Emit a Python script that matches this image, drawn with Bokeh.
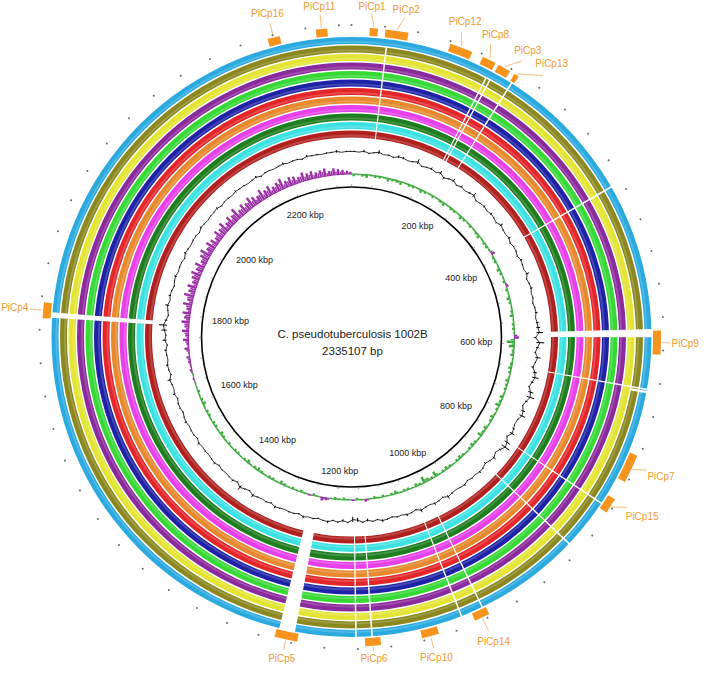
import numpy as np
from bokeh.plotting import figure
from bokeh.models import Range1d
from bokeh.embed import file_html
from bokeh.resources import INLINE
from bokeh.core.properties import value

# ---------------- data ----------------
GENOME_BP = 2335107
genome_title = "C. pseudotuberculosis 1002B"
genome_size_label = "2335107 bp"

# comparison rings, outermost first
ring_colors = ["#2BAAE0", "#8A881E", "#E4E433", "#8B2A9C", "#36D936", "#1E22A6",
               "#E4262A", "#E8892E", "#E840E8", "#1E7D1E", "#3CE2E2", "#B0201E"]

backbone_label_kbp = [200, 400, 600, 800, 1000, 1200, 1400, 1600, 1800, 2000, 2200]
backbone_labels = ["200 kbp", "400 kbp", "600 kbp", "800 kbp", "1000 kbp", "1200 kbp",
                   "1400 kbp", "1600 kbp", "1800 kbp", "2000 kbp", "2200 kbp"]

island_names = ["PiCp1", "PiCp2", "PiCp12", "PiCp8", "PiCp3", "PiCp13", "PiCp9", "PiCp7",
                "PiCp15", "PiCp14", "PiCp10", "PiCp6", "PiCp5", "PiCp4", "PiCp16", "PiCp11"]
island_start_kbp = [22, 41, 121, 163, 184, 206, 576, 730, 789, 996, 1061, 1132, 1233, 1774, 2233, 2292]
island_end_kbp = [32, 69, 149, 180, 200, 212, 605, 765, 808, 1015, 1082, 1151, 1261, 1793, 2248, 2306]

# regions missing from the compared genomes (white gaps through the rings)
gap_start_kbp = [43.5, 177, 182.5, 208, 388, 574, 648, 651, 801, 865, 999, 1027, 1141, 1161, 1238, 1775]
gap_end_kbp = [45.5, 179, 184.5, 210, 390, 584, 650, 654, 803, 867, 1001, 1029, 1143, 1163, 1258, 1782]
gap_first_ring = [1, 1, 1, 0, 0, 0, 0, 0, 0, 0, 0, 0, 0, 0, 0, 0]
gap_last_ring = [11, 11, 11, 11, 11, 11, 11, 1, 11, 11, 11, 11, 11, 11, 11, 11]

window_kbp = 10
gc_content = [
    1, 0, 2, -1, 1, 3, 0, 1, -1, 2,
    2, 0, 1, 4, -1, 1, 2, 0, 3, -2,
    1, 3, -1, 2, 0, 2, 4, -1, 1, 2,
    0, 2, 1, -1, 3, 1, 0, 2, -1, 1,
    1, -1, 2, 1, 0, 3, -1, 1, 2, 0,
    1, -1, 1, 2, 0, 2, 3, 5, -2, 6,
    2, -1, 4, 1, -2, 3, 5, 2, -1, 4,
    6, 2, -1, 3, 5, 1, 0, 2, 4, -1,
    5, 7, 2, -1, 3, 1, -2, 1, 2, 0,
    1, -1, 2, 1, 0, 1, 3, -1, 1, 2,
    0, 1, 3, -1, 1, 2, 0, 1, -1, 1,
    2, -1, 1, -2, 1, -3, -4, 1, -2, 1,
    -1, 2, 1, -1, 1, 0, 2, -1, 1, 1,
    0, 1, 2, -1, 1, 0, 1, 3, -1, 1,
    4, -1, 2, 1, 0, 1, -1, 2, 1, 0,
    1, 0, 2, -1, 1, 1, 0, 2, 1, -1,
    1, 1, -1, 2, 0, 1, 3, -1, 1, 2,
    0, 1, 2, -1, 3, 1, 4, 6, 2, -1,
    1, 3, 0, 2, 1, -1, 1, 2, 0, 1,
    1, -1, 2, 1, 0, 1, 1, -1, 2, 1,
    0, 1, 1, 2, -1, 1, 1, 0, 2, 1,
    1, 0, 1, 2, -1, 1, 1, 0, 1, 2,
    0, 1, 1, -1, 2, 1, 1, 0, 1, 1,
    2, 0, 1, 1]
gc_skew = [
    -2, -1, -2, -3, -1, -2, -2, -1, -3, -2,
    -2, -3, -1, -2, -2, -1, -3, -2, -1, -2,
    -1, -2, -3, -1, -2, -2, -1, -3, -2, -1,
    -2, -1, -2, -3, -1, -2, -2, -1, 3, -2,
    -2, -1, -3, -2, -1, -2, 2, -2, -1, -3,
    -2, -1, -2, -3, -1, -2, -2, -1, 4, -7,
    -5, -2, -3, -1, -2, -3, -2, -1, -3, -2,
    -2, -1, -3, -2, -4, -2, -1, -3, -2, -1,
    -3, -2, -4, -1, -2, -3, -2, -1, -2, -3,
    -2, -1, -2, -3, -2, -1, -5, -2, -3, -6,
    -2, -3, -1, -2, -2, -1, -3, -2, -1, -2,
    -1, -2, -1, 2, -1, -2, 1, -1, -2, -1,
    -2, -1, 2, 3, -1, -2, 1, -1, -2, -1,
    -2, -1, -2, -3, -1, -2, -2, -1, -2, -3,
    -2, -1, -3, -2, -1, -2, -2, -1, -2, -1,
    -2, -3, -1, -2, -2, -1, -2, -2, -1, -3,
    -2, -1, -2, -1, -1, 1, -1, 2, 1, 2,
    3, 1, 4, 2, 5, 3, 6, 4, 7, 5,
    7, 4, 8, 5, 9, 6, 8, 5, 7, 9,
    6, 9, 5, 8, 10, 6, 9, 7, 5, 9,
    7, 10, 6, 9, 7, 11, 6, 9, 7, 10,
    8, 6, 10, 7, 9, 6, 8, 10, 6, 8,
    7, 5, 8, 6, 7, 5, 6, 7, 4, 6,
    5, 4, 3, 2]

# ---------------- layout ----------------
CX, CY = 351.0, -336.5
R_BACKBONE = 150.0
R_GC = 185.0
R_SKEW = 163.0
R_RING_OUT, RING_PITCH, RING_W = 300.0, 8.5, 7.0
R_ISL_IN, R_ISL_OUT = 301.5, 309.5
R_DOTS = 312.0
R_LABEL_EDGE = 325.0
R_TICKLABEL_EDGE = 141.0
label_nudge_deg = {"PiCp2": 1.0, "PiCp12": -1.0, "PiCp8": -1.0, "PiCp3": 2.0,
                   "PiCp13": 4.0, "PiCp7": -1.0, "PiCp15": -1.4, "PiCp1": -0.6}
label_edge_nudge = {"PiCp9": -5.0, "PiCp6": -9.0, "PiCp5": -4.0, "PiCp4": -1.0, "PiCp10": -2.0}

FONT = value("Liberation Sans")
ORANGE = "#F7941D"
LABEL_ORANGE = "#F39A2E"
SKEW_POS = "#9A2FA6"
SKEW_NEG = "#3DAA3D"

CW = {'P': .667, 'i': .222, 'C': .722, 'p': .556, 'k': .5, 'b': .556, ' ': .278}


def text_w(s, fs):
    return sum(CW.get(c, .556) for c in s) * fs


def theta(kbp):
    return 2 * np.pi * np.asarray(kbp, float) * 1000.0 / GENOME_BP


def ang(kbp):
    return np.pi / 2 - theta(kbp)


def pt(r, kbp):
    a = ang(kbp)
    return CX + np.asarray(r) * np.cos(a), CY + np.asarray(r) * np.sin(a)


def box_center(r_edge, kbp, w, h, outward=True):
    t = theta(kbp)
    d = abs(np.sin(t)) * w / 2 + abs(np.cos(t)) * h / 2
    r = r_edge + d if outward else r_edge - d
    return pt(r, kbp)


p = figure(width=699, height=666, x_range=Range1d(0, 699), y_range=Range1d(-666, 0),
           output_backend="svg", toolbar_location=None, min_border=0,
           x_axis_type=None, y_axis_type=None)
p.grid.visible = False
p.outline_line_color = None
p.background_fill_color = "white"
p.border_fill_color = "white"

n_r = len(ring_colors)
ring_outer = [R_RING_OUT - i * RING_PITCH for i in range(n_r)]
ring_inner = [r - RING_W for r in ring_outer]

# rings
p.annulus(x=[CX] * n_r, y=[CY] * n_r, inner_radius=ring_inner, outer_radius=ring_outer,
          fill_color=ring_colors, line_color=None)
p.annulus(x=[CX] * n_r, y=[CY] * n_r, inner_radius=[r + 1.2 for r in ring_inner],
          outer_radius=[r + 3.0 for r in ring_inner], fill_color="white", fill_alpha=0.18,
          line_color=None)

# gaps
g_in = [ring_inner[l] - 0.8 for l in gap_last_ring]
g_out = [ring_outer[f] + 0.8 for f in gap_first_ring]
p.annular_wedge(x=[CX] * len(g_in), y=[CY] * len(g_in), inner_radius=g_in, outer_radius=g_out,
                start_angle=list(ang(gap_end_kbp)), end_angle=list(ang(gap_start_kbp)),
                direction="anticlock", fill_color="white", line_color=None)

# islands
ni = len(island_names)
p.annular_wedge(x=[CX] * ni, y=[CY] * ni, inner_radius=R_ISL_IN, outer_radius=R_ISL_OUT,
                start_angle=list(ang(island_end_kbp)), end_angle=list(ang(island_start_kbp)),
                direction="anticlock", fill_color=ORANGE, line_color=None)

# island labels + leader lines
lx, ly, l0x, l0y, l1x, l1y = [], [], [], [], [], []
for name, s, e in zip(island_names, island_start_kbp, island_end_kbp):
    mid = (s + e) / 2.0
    lab_kbp = mid + label_nudge_deg.get(name, 0.0) / 360.0 * GENOME_BP / 1000.0
    edge = R_LABEL_EDGE + label_edge_nudge.get(name, 0.0)
    w = text_w(name, 10)
    cx_, cy_ = box_center(edge, lab_kbp, w, 10)
    lx.append(float(cx_)); ly.append(float(cy_))
    ax, ay = pt(R_ISL_OUT + 1.5, mid)
    bx, by = pt(edge - 1.0, lab_kbp)
    l0x.append(float(ax)); l0y.append(float(ay)); l1x.append(float(bx)); l1y.append(float(by))
p.segment(x0=l0x, y0=l0y, x1=l1x, y1=l1y, line_color="#F6B46A", line_width=0.9)
p.text(x=lx, y=ly, text=island_names, text_font=FONT, text_font_size="10px",
       text_color=LABEL_ORANGE, text_align="center", text_baseline="middle")

# outer tick dots every 40 kbp
dot_kbp = np.arange(0, GENOME_BP / 1000.0, 40)
dx_, dy_ = pt(R_DOTS, dot_kbp)
p.scatter(x=list(dx_), y=list(dy_), size=2.0, marker="circle", fill_color="#666666", line_color=None)

# GC skew: thin baseline coloured by sign plus spikes
starts = np.arange(len(gc_skew)) * window_kbp
ends = np.minimum(starts + window_kbp, GENOME_BP / 1000.0)
centers = (starts + ends) / 2.0
sk = np.asarray(gc_skew, float) * 1.1
sk_cols = [SKEW_POS if v > 0 else SKEW_NEG for v in sk]
nsk = len(sk)
p.annular_wedge(x=[CX] * nsk, y=[CY] * nsk, inner_radius=R_SKEW - 0.6, outer_radius=R_SKEW + 0.6,
                start_angle=list(ang(ends)), end_angle=list(ang(starts)), direction="anticlock",
                fill_color=sk_cols, line_color=None)
k0x, k0y = pt(np.full(nsk, R_SKEW), centers)
k1x, k1y = pt(R_SKEW + sk, centers)
p.segment(x0=list(k0x), y0=list(k0y), x1=list(k1x), y1=list(k1y), line_color=sk_cols, line_width=2.4)
# in-between spikes at half height to densify the trace
h0x, h0y = pt(np.full(nsk, R_SKEW), starts)
hv = np.where(sk > 0, sk * 0.6, sk * 0.5)
h1x, h1y = pt(R_SKEW + hv, starts)
p.segment(x0=list(h0x), y0=list(h0y), x1=list(h1x), y1=list(h1y), line_color=sk_cols, line_width=1.4)

# GC content: jagged line plus spikes
gcv = np.asarray(gc_content, float) * 1.3
lnx, lny = pt(R_GC + gcv * 0.45, centers)
p.line(x=list(lnx) + [lnx[0]], y=list(lny) + [lny[0]], line_color="black", line_width=0.8)
s0x, s0y = pt(np.full(len(gcv), R_GC), centers)
s1x, s1y = pt(R_GC + gcv, centers)
p.segment(x0=list(s0x), y0=list(s0y), x1=list(s1x), y1=list(s1y), line_color="black", line_width=1.0)

# backbone
p.arc(x=CX, y=CY, radius=R_BACKBONE, start_angle=0, end_angle=2 * np.pi,
      line_color="black", line_width=1.6)
tick_kbp = np.arange(0, GENOME_BP / 1000.0, 50)
t0x, t0y = pt(R_BACKBONE, tick_kbp)
t1x, t1y = pt(R_BACKBONE + 2.5, tick_kbp)
p.segment(x0=list(t0x), y0=list(t0y), x1=list(t1x), y1=list(t1y), line_color="#777777", line_width=0.7)

tlx, tly = [], []
for k, lab in zip(backbone_label_kbp, backbone_labels):
    cx_, cy_ = box_center(R_TICKLABEL_EDGE, k, text_w(lab, 9), 9, outward=False)
    tlx.append(float(cx_)); tly.append(float(cy_))
p.text(x=tlx, y=tly, text=backbone_labels, text_font=FONT, text_font_size="9px",
       text_color="#222222", text_align="center", text_baseline="middle")

# centre title
p.text(x=[352, 352], y=[-333, -350], text=[genome_title, genome_size_label], text_font=FONT,
       text_font_size="11.5px", text_color="#222222", text_align="center", text_baseline="middle")

open("out.html", "w").write(file_html(p, INLINE))
